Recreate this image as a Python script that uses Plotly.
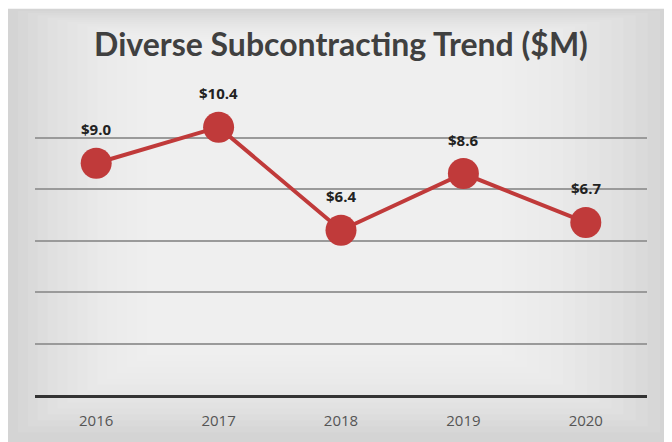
import plotly.graph_objects as go

years = ["2016", "2017", "2018", "2019", "2020"]
values = [9.0, 10.4, 6.4, 8.6, 6.7]
labels = ["$9.0", "$10.4", "$6.4", "$8.6", "$6.7"]
title_text = "Diverse Subcontracting Trend ($M)"

# page body has an 8px margin, so the figure is offset by 8px
OFF = 8
W, H = 672 - OFF, 442 - OFF
L, R, T, B = 35 - OFF, 25, 86 - OFF, 44
pw, ph = W - L - R, H - T - B

def px(x):  # x in screenshot pixels
    return (x - OFF - L) / pw

def py(y):  # y in screenshot pixels
    return (H - B - (y - OFF)) / ph

red = "#c03a3a"

fig = go.Figure()
fig.add_trace(go.Scatter(
    x=years, y=values, mode="lines+markers",
    line=dict(color=red, width=4),
    marker=dict(size=31, color=red),
    hoverinfo="skip", showlegend=False,
))

for i, (v, lab) in enumerate(zip(values, labels)):
    fig.add_annotation(x=i, y=v, text="<b>" + lab + "</b>", showarrow=False, yshift=34,
                       font=dict(family="Open Sans", size=15, color="#222222"))

shapes = []
shapes.append(dict(type="rect", xref="paper", yref="paper", layer="below",
                   x0=px(8), x1=px(680), y0=py(450), y1=py(8),
                   fillcolor="#d4d4d4", line=dict(width=0)))
n = 14
for k in range(1, n + 1):
    inset = k * 11
    shapes.append(dict(type="rect", xref="paper", yref="paper", layer="below",
                       x0=px(8 + inset * 0.9), x1=px(672 - inset * 1.1),
                       y0=py(442 - inset * 0.55), y1=py(8 + inset * 0.2),
                       fillcolor="white", opacity=0.09, line=dict(width=0)))
fig.update_layout(shapes=shapes)

fig.update_layout(
    width=W, height=H,
    margin=dict(l=L, r=R, t=T, b=B),
    paper_bgcolor="white",
    plot_bgcolor="rgba(0,0,0,0)",
    title=dict(text="<b>" + title_text + "</b>", x=0.5, xanchor="center",
               y=1 - (45 - OFF) / H, yanchor="middle", xref="paper",
               font=dict(family="Lato", size=32, color="#404040")),
    xaxis=dict(type="category", range=[-0.5, len(years) - 0.5],
               showgrid=False, showline=True,
               linecolor="#333333", linewidth=3, ticks="",
               ticklabelstandoff=10,
               tickfont=dict(family="Open Sans", size=15, color="#555555"),
               zeroline=False),
    yaxis=dict(range=[0, 12], dtick=2, showticklabels=False,
               showgrid=True, gridcolor="#9a9a9a", gridwidth=1.5,
               zeroline=False, showline=False),
)

fig.write_html("out.html")
